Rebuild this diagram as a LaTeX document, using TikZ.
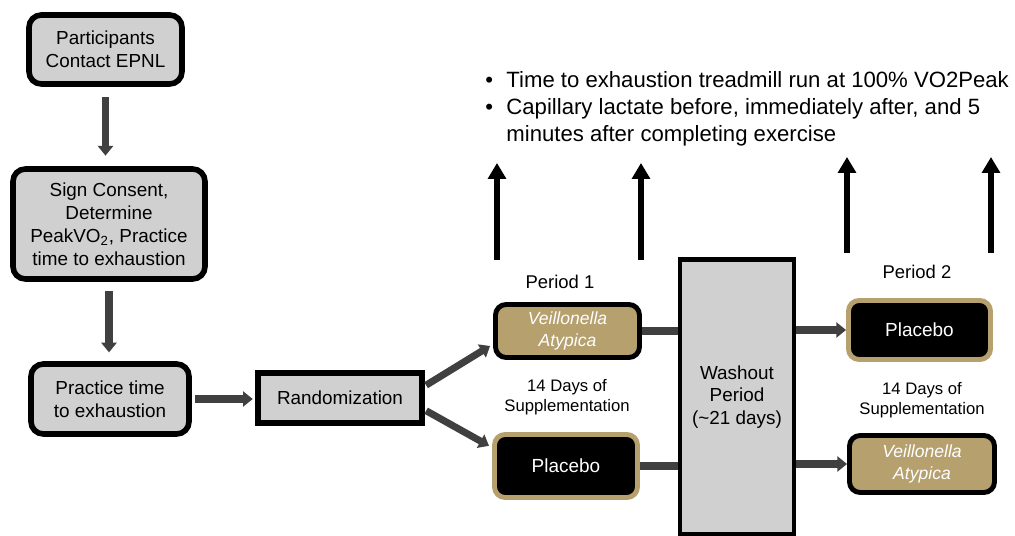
\documentclass[tikz,border=0pt]{standalone}
\usepackage{fontspec}
\setmainfont{Liberation Sans}
\usetikzlibrary{arrows.meta}

\definecolor{boxgray}{RGB}{208,208,208}
\definecolor{gold}{RGB}{181,160,110}
\definecolor{darkarrow}{RGB}{64,64,64}

\begin{document}
\begin{tikzpicture}[x=0.02cm, y=-0.02cm]
  \tikzstyle{stepbox}=[draw, line width=3.2pt, rounded corners=7pt, fill=boxgray, align=center, inner sep=0pt, font=\fontsize{10.75}{13}\selectfont]
  \tikzstyle{sqbox}=[stepbox, rounded corners=0pt, line width=3pt]
  \tikzstyle{goldbox}=[stepbox, line width=2.8pt, rounded corners=6pt, fill=gold, text=white, font=\fontsize{10}{12.5}\selectfont\itshape]
  \tikzstyle{blackbox}=[stepbox, line width=2.8pt, rounded corners=6pt, draw=gold, fill=black, text=white, font=\fontsize{10.8}{13}\selectfont]
  \tikzstyle{flow}=[draw=darkarrow, line width=4pt, -{Triangle[length=5.5pt, width=8.5pt]}]
  \tikzstyle{link}=[draw=darkarrow, line width=4pt]
  \tikzstyle{up}=[draw=black, line width=3.2pt, -{Triangle[length=9pt, width=10pt]}]
  \tikzstyle{label}=[inner sep=0pt, align=center]

  \useasboundingbox (0,0) rectangle (1015,536);

  % screening
  \node (part) [stepbox, minimum width=3.06cm, minimum height=1.38cm] at (105.5,49.5) {Participants\\Contact EPNL};
  \node (consent) [stepbox, minimum width=3.84cm, minimum height=2.2cm] at (109,224) {Sign Consent,\\Determine\\PeakVO\textsubscript{2}, Practice\\time to exhaustion};
  \node (practice) [stepbox, minimum width=3.16cm, minimum height=1.4cm] at (110,399) {Practice time\\to exhaustion};
  \node (random) [sqbox, minimum width=3.28cm, minimum height=1.0cm] at (340,398) {Randomization};

  \draw[flow, shorten <=6pt, shorten >=6pt] (part.south) -- (part.south |- consent.north);
  \draw[flow, shorten <=5.5pt, shorten >=5pt] (consent.south) -- (consent.south |- practice.north);
  \draw[flow, shorten <=2pt, shorten >=1.5pt] (practice.east) -- (practice.east -| random.west);

  % period 1
  \node (vaA) [goldbox, minimum width=2.88cm, minimum height=1.06cm] at (567.5,331) {Veillonella\\Atypica};
  \node (plA) [blackbox, minimum width=2.86cm, minimum height=1.26cm] at (566,466) {Placebo};
  \node (per1) [label, font=\fontsize{10.5}{12}\selectfont] at (560,282) {Period 1};
  \node (supA) [label, font=\fontsize{9.5}{11.4}\selectfont] at (567,397) {14 Days of\\Supplementation};

  \draw[flow, shorten <=1pt, shorten >=2pt] (random.8) -- (vaA.190);
  \draw[flow, shorten <=1pt, shorten >=2pt] (random.-8) -- (plA.166);

  % washout
  \node (washout) [sqbox, line width=2.8pt, minimum width=2.28cm, minimum height=5.5cm] at (737,397) {Washout\\Period\\(\textasciitilde21 days)};
  \draw[link] (vaA.east) -- (vaA.east -| washout.west);
  \draw[link] (plA.east) -- (plA.east -| washout.west);

  % period 2
  \node (plB) [blackbox, minimum width=2.84cm, minimum height=1.18cm] at (919.5,330) {Placebo};
  \node (vaB) [goldbox, minimum width=2.9cm, minimum height=1.14cm] at (922,464) {Veillonella\\Atypica};
  \node (per2) [label, font=\fontsize{10.5}{12}\selectfont] at (917,272) {Period 2};
  \node (supB) [label, font=\fontsize{9.5}{11.4}\selectfont] at (922,400) {14 Days of\\Supplementation};

  \draw[flow, shorten >=0pt] (washout.east |- plB.west) -- (plB.west);
  \draw[flow, shorten >=0pt] (washout.east |- vaB.west) -- (vaB.west);

  % testing sessions
  \node (tests) [label, anchor=west, align=left, font=\fontsize{12.6}{15.4}\selectfont] at (485,109)
    {\makebox[12pt][l]{\textbullet}Time to exhaustion treadmill run at 100\% VO2Peak\\
     \makebox[12pt][l]{\textbullet}Capillary lactate before, immediately after, and 5\\
     \makebox[12pt][l]{}minutes after completing exercise};

  \foreach \x/\yb/\yt [count=\i] in {497/260/163, 641/260/163, 847/253/157, 991/253/157} {
    \coordinate (base\i) at (\x,\yb);
    \coordinate (tip\i) at (\x,\yt);
    \draw[up] (base\i) -- (tip\i);
  }

\end{tikzpicture}
\end{document}
